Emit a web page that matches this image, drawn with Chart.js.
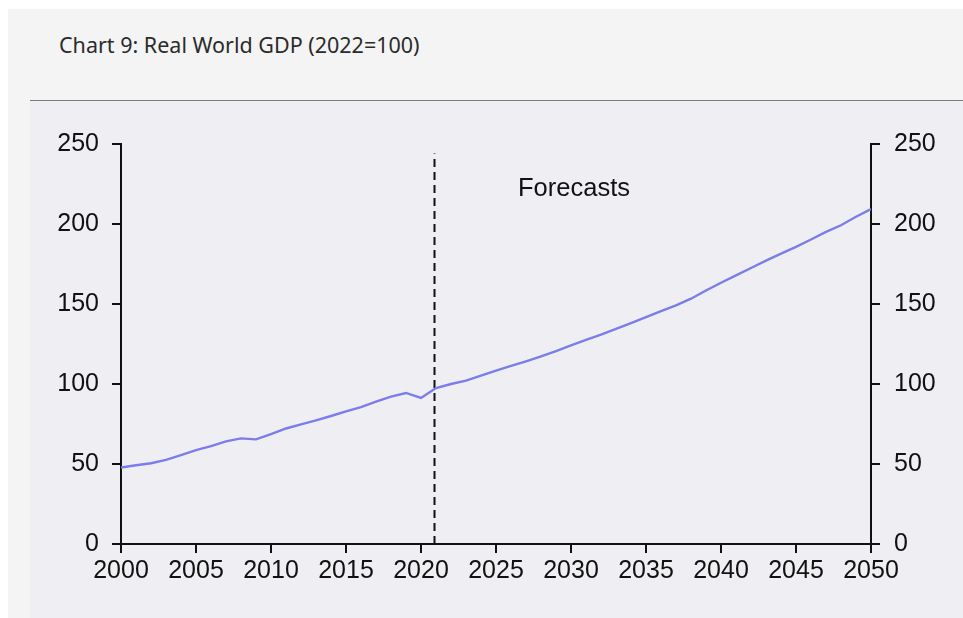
<!DOCTYPE html>
<html>
<head>
<meta charset="utf-8">
<script src="https://cdn.jsdelivr.net/npm/chart.js@4"></script>
<style>
  body { margin: 0; background: #fff; width: 963px; height: 618px; overflow: hidden; position: relative; }
  #page { position: absolute; left: 8px; top: 9px; width: 955px; height: 609px; background: #f4f4f4; }
  #title { position: absolute; left: 51px; top: 21px; font-family: "Noto Sans", sans-serif; font-size: 21.5px; color: #2b2b2b; }
  #panel { position: absolute; left: 22px; top: 91px; width: 933px; height: 518px; background: #efeff3; border-top: 1.5px solid #7a7a7a; }
</style>
</head>
<body>
<div id="page">
  <div id="title">Chart 9: Real World GDP (2022=100)</div>
  <div id="panel"><canvas id="chart"></canvas></div>
</div>
<script>
// Real world GDP index, 2022 = 100 (history to 2021, forecasts after)
const years = [];
for (let y = 2000; y <= 2050; y++) years.push(y);

const gdpIndex = [
  47.8, 49.2, 50.5, 52.6, 55.6, 58.7, 61.2, 64.1, 66.0, 65.4,
  68.7, 72.2, 74.8, 77.3, 80.0, 82.9, 85.6, 89.0, 92.1, 94.4,
  91.3, 97.5, 100.0, 102.1, 105.2, 108.4, 111.3, 114.2, 117.2, 120.5,
  124.2, 127.6, 130.8, 134.5, 138.0, 141.8, 145.6, 149.1, 153.3, 158.4,
  163.3, 167.9, 172.5, 177.1, 181.5, 185.7, 190.3, 195.1, 199.2, 204.5,
  209.3
];

const xTicks = [2000, 2005, 2010, 2015, 2020, 2025, 2030, 2035, 2040, 2045, 2050];
const yTicks = [0, 50, 100, 150, 200, 250];

// where the forecast period starts, and its caption
const forecastStart = 2020.9;
const forecastLineTop = 244;
const forecastCaption = "Forecasts";
const captionAt = { x: 2030.2, y: 222 };

const tickFont = { family: "'Liberation Sans', Arial, sans-serif", size: 25 };

const captionPlugin = {
  id: "caption",
  afterDatasetsDraw(chart) {
    const c = chart.ctx;
    const px = chart.scales.x.getPixelForValue(captionAt.x);
    const py = chart.scales.y.getPixelForValue(captionAt.y);
    c.save();
    c.font = "25.5px 'Liberation Sans', Arial, sans-serif";
    c.fillStyle = "#111";
    c.textAlign = "center";
    c.textBaseline = "middle";
    c.fillText(forecastCaption, px, py);
    c.restore();
  }
};

function axisStyle(pos) {
  return {
    position: pos,
    min: 0,
    max: 250,
    afterBuildTicks: s => { s.ticks = yTicks.map(v => ({ value: v })); },
    afterFit: s => { s.width = pos === "left" ? 91 : 92; },
    grid: { drawOnChartArea: false, drawTicks: true, tickLength: 9, color: "#111", lineWidth: 2 },
    border: { display: true, color: "#111", width: 2 },
    ticks: { color: "#111", font: tickFont, padding: pos === "left" ? 13 : 14, callback: v => String(v) }
  };
}

const ctx = document.getElementById("chart").getContext("2d");
new Chart(ctx, {
  type: "line",
  data: {
    datasets: [
      {
        data: years.map((y, i) => ({ x: y, y: gdpIndex[i] })),
        borderColor: "rgb(124,124,234)",
        borderWidth: 2.4,
        pointRadius: 0,
        tension: 0,
        yAxisID: "y"
      },
      {
        data: [{ x: forecastStart, y: 0 }, { x: forecastStart, y: forecastLineTop }],
        borderColor: "#111",
        borderWidth: 2,
        borderDash: [8, 5],
        pointRadius: 0,
        yAxisID: "y"
      }
    ]
  },
  options: {
    responsive: true,
    maintainAspectRatio: false,
    animation: false,
    layout: { padding: { top: 43, left: 0, right: 0, bottom: 0 } },
    plugins: { legend: { display: false }, tooltip: { enabled: false } },
    scales: {
      x: {
        type: "linear",
        min: 2000,
        max: 2050,
        afterBuildTicks: s => { s.ticks = xTicks.map(v => ({ value: v })); },
        afterFit: s => { s.height = 75; },
        grid: { drawOnChartArea: false, drawTicks: true, tickLength: 9, color: "#111", lineWidth: 2 },
        border: { display: true, color: "#111", width: 2 },
        ticks: { color: "#111", font: tickFont, padding: 3, maxRotation: 0, autoSkip: false, callback: v => String(v) }
      },
      y: axisStyle("left"),
      y2: axisStyle("right")
    }
  },
  plugins: [captionPlugin]
});
</script>
</body>
</html>
